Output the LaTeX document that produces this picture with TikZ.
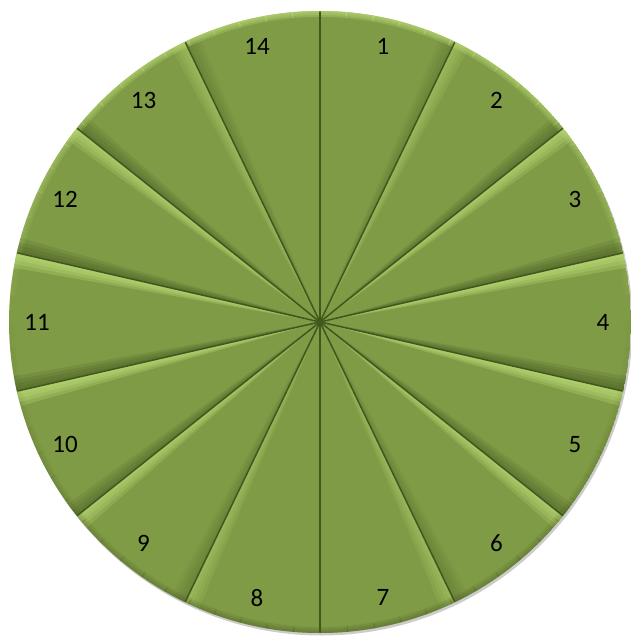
\documentclass[tikz,border=0pt]{standalone}
\usepackage{fontspec}
\setmainfont{Carlito}
\definecolor{leaf}{RGB}{128,155,70}
\definecolor{leafdark}{RGB}{66,86,32}
\definecolor{leaflight}{RGB}{190,222,120}

\begin{document}
\begin{tikzpicture}[x=1pt,y=1pt,
        wedge/.style={fill=leaf},
        seam/.style={draw=leafdark, line width=1.5pt, line cap=round},
        num/.style={font=\fontsize{25}{30}\selectfont, text=black}
    ]
    \useasboundingbox (-320,-315) rectangle (310,322);
    \def\R{311}
    \def\w{25.7142857}
    % soft shadow
    \fill[black!40, opacity=0.5] (1.5,-2.5) circle (\R);
    % slices with bevels
    \foreach \i in {1,...,14}{
        \pgfmathsetmacro\a{90-(\i-1)*\w}
        \pgfmathsetmacro\b{\a-\w}
        \pgfmathsetmacro\la{max(cos(\a),0)*0.3}
        \pgfmathsetmacro\da{max(-cos(\a),0)*0.18}
        \pgfmathsetmacro\lb{max(-cos(\b),0)*0.3}
        \pgfmathsetmacro\db{max(cos(\b),0)*0.18}
        \begin{scope}
            \clip (0,0) -- (\a:\R) arc[start angle=\a, end angle=\b, radius=\R] -- cycle;
            \fill[wedge] (0,0) circle (\R);
            \foreach \k in {0.7,1.4,2.1,2.8}{
                \fill[leaflight, opacity=\la] (0,0) -- (\a:\R) -- (\a-\k:\R) -- cycle;
                \fill[leafdark, opacity=\da] (0,0) -- (\a:\R) -- (\a-\k:\R) -- cycle;
                \fill[leaflight, opacity=\lb] (0,0) -- (\b:\R) -- (\b+\k:\R) -- cycle;
                \fill[leafdark, opacity=\db] (0,0) -- (\b:\R) -- (\b+\k:\R) -- cycle;
            }
        \end{scope}
    }
    % rim bevel
    \begin{scope}
        \clip (0,0) circle (\R);
        \foreach \t in {0,5,...,355}{
            \pgfmathsetmacro\lr{max(sin(\t+2.5),0)*0.3}
            \pgfmathsetmacro\dr{max(-sin(\t+2.5),0)*0.15}
            \foreach \s in {4,8,12}{
                \draw[leaflight, opacity=\lr, line width=\s pt] (\t:\R) arc[start angle=\t, end angle=\t+5.2, radius=\R];
                \draw[leafdark, opacity=\dr, line width=\s pt] (\t:\R) arc[start angle=\t, end angle=\t+5.2, radius=\R];
            }
        }
    \end{scope}
    % seams and numbers
    \foreach \i in {1,...,14}{
        \pgfmathsetmacro\a{90-(\i-1)*\w}
        \pgfmathsetmacro\m{\a-\w/2}
        \draw[seam] (0,0) -- (\a:\R-1);
        \node[num] (n\i) at (\m:283) {\i};
    }
\end{tikzpicture}
\end{document}
